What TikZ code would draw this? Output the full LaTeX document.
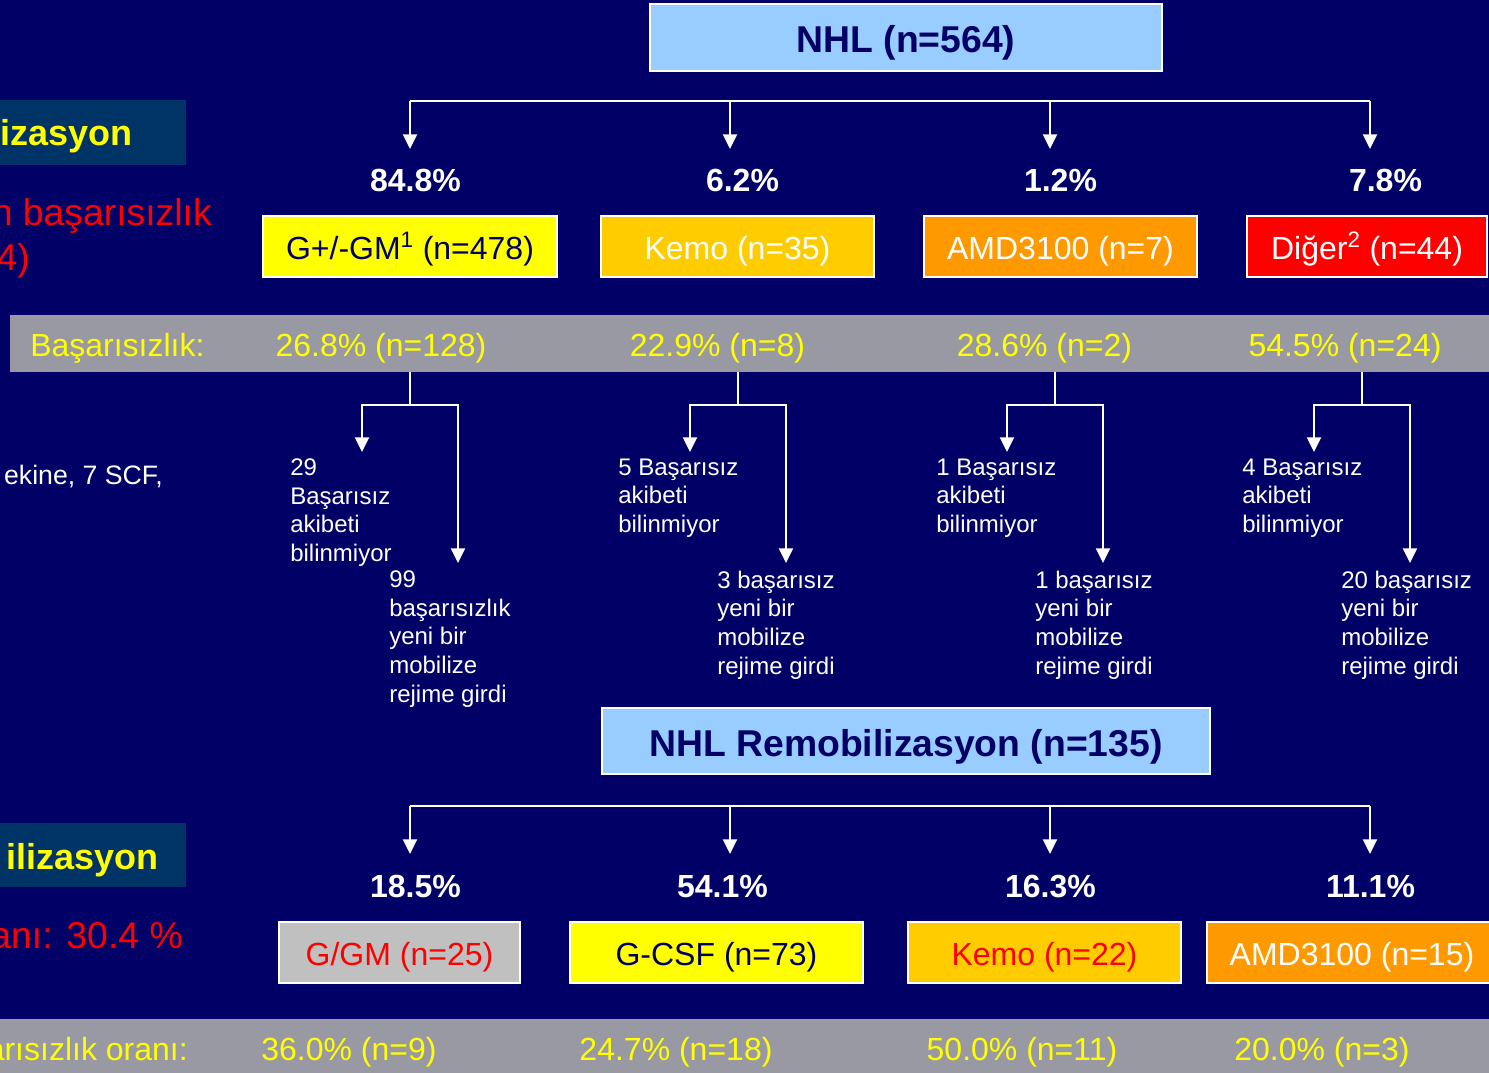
\documentclass[tikz,border=0pt]{standalone}
\usepackage{fontspec}
\setmainfont{Liberation Sans}
\usetikzlibrary{arrows.meta}
\definecolor{bgnavy}{RGB}{0,0,102}
\definecolor{titlebg}{RGB}{0,51,102}
\definecolor{bandgray}{RGB}{153,153,163}
\definecolor{lblue}{RGB}{153,204,255}
\definecolor{gold}{RGB}{255,204,0}
\definecolor{orng}{RGB}{255,153,0}
\definecolor{silv}{RGB}{192,192,192}
\definecolor{yel}{RGB}{255,255,0}
\definecolor{rd}{RGB}{255,0,0}
\tikzset{
  box/.style={draw=white, line width=1.3pt, inner sep=0pt, minimum height=45.75pt,
    font=\fontsize{24}{28}\selectfont, text height=19.4pt, text depth=0pt},
  hbox/.style={box, fill=lblue, text=bgnavy, font=\fontsize{28}{32}\selectfont\bfseries, text height=23pt},
  pct/.style={text=white, font=\fontsize{24}{28}\selectfont\bfseries, anchor=base, inner sep=0pt},
  rate/.style={text=yel, font=\fontsize{24}{28}\selectfont, anchor=base, inner sep=0pt},
  note/.style={text=white, font=\fontsize{18}{21.5}\selectfont, align=left, anchor=north west, inner sep=0pt},
  sidetitle/.style={text=yel, font=\fontsize{27}{32}\selectfont\bfseries, anchor=base east, inner sep=0pt},
  sidered/.style={text=rd, font=\fontsize{28}{32}\selectfont, inner sep=0pt},
  arr/.style={draw=white, line width=1.5pt, -{Triangle[width=10.5pt,length=11pt]}},
  ln/.style={draw=white, line width=1.5pt},
}
\begin{document}
\begin{tikzpicture}[x=0.75pt, y=-0.75pt]
\useasboundingbox (0,0) rectangle (1489,1073);
\fill[bgnavy] (0,0) rectangle (1489,1073);

% left side panels
\fill[titlebg] (0,100) rectangle (186,165);
\fill[titlebg] (0,823) rectangle (186,887);
\node[sidetitle] (lt1) at (133,146) {izasyon};
\node[sidered, anchor=base east] (lr1) at (212,226) {n başarısızlık};
\node[sidered, anchor=base east] (lr2) at (30,271) {4)};
\node[text=white, font=\fontsize{20}{23}\selectfont, anchor=base east, inner sep=0pt] (lw1) at (163,484) {ekine, 7 SCF,};
\node[sidetitle] (lt2) at (159,869) {ilizasyon};
\node[sidered, anchor=base east] (lr3) at (183,948) {anı: 30.4 \%};

% gray bands
\fill[bandgray] (10,315) rectangle (1489,372);
\fill[bandgray] (0,1019) rectangle (1489,1073);

% top box
\node[hbox, minimum width=384pt, minimum height=50.25pt] (nhl) at (906,37.5) {NHL (n=564)};

% top branch bar
\coordinate (t1) at (410,101);
\coordinate (t2) at (730,101);
\coordinate (t3) at (1050,101);
\coordinate (t4) at (1370,101);
\draw[ln] (t1) -- (t4);
\coordinate (e1) at (410,149);
\coordinate (e2) at (730,149);
\coordinate (e3) at (1050,149);
\coordinate (e4) at (1370,149);
\draw[arr] (t1) -- (e1);
\draw[arr] (t2) -- (e2);
\draw[arr] (t3) -- (e3);
\draw[arr] (t4) -- (e4);

% percentages row 1
\node[pct] (p1) at (415.5,192) {84.8\%};
\node[pct] (p2) at (742.5,192) {6.2\%};
\node[pct] (p3) at (1060.5,192) {1.2\%};
\node[pct] (p4) at (1385.5,192) {7.8\%};

% boxes row 1
\node[box, fill=yel, text=bgnavy, minimum width=220.5pt] (g1) at (410,246.5) {G+/-GM\textsuperscript{1} (n=478)};
\node[box, fill=gold, text=white, minimum width=204.75pt] (k1) at (737.5,246.5) {Kemo (n=35)};
\node[box, fill=orng, text=white, minimum width=204.75pt] (a1) at (1060.5,246.5) {AMD3100 (n=7)};
\node[box, fill=rd, text=white, minimum width=180pt] (d1) at (1367,246.5) {Diğer\textsuperscript{2} (n=44)};

% failure band row 1
\node[rate, anchor=base west] (bl) at (30,356.5) {Başarısızlık:};
\node[rate] (r1) at (381,356.5) {26.8\% (n=128)};
\node[rate] (r2) at (717.5,356.5) {22.9\% (n=8)};
\node[rate] (r3) at (1044.5,356.5) {28.6\% (n=2)};
\node[rate] (r4) at (1345,356.5) {54.5\% (n=24)};

% failure branches
\foreach \i/\c in {1/410, 2/738, 3/1055, 4/1362} {
  \coordinate (f\i) at (\c,372);
  \coordinate (m\i) at (\c,405);
  \coordinate (ua\i) at (\c-48,452);
  \coordinate (la\i) at (\c+48,563);
  \draw[arr] (f\i) -- (m\i) -| (ua\i);
  \draw[arr] (m\i) -| (la\i);
}

% notes
\node[note] (u1) at (290,458.5) {29\\Başarısız\\akibeti\\bilinmiyor};
\node[note] (l1) at (389,570.5) {99\\başarısızlık\\yeni bir\\mobilize\\rejime girdi};
\node[note] (u2) at (618,458.5) {5 Başarısız\\akibeti\\bilinmiyor};
\node[note] (l2) at (717,570.5) {3 başarısız\\yeni bir\\mobilize\\rejime girdi};
\node[note] (u3) at (936,458.5) {1 Başarısız\\akibeti\\bilinmiyor};
\node[note] (l3) at (1035,570.5) {1 başarısız\\yeni bir\\mobilize\\rejime girdi};
\node[note] (u4) at (1242,458.5) {4 Başarısız\\akibeti\\bilinmiyor};
\node[note] (l4) at (1341,570.5) {20 başarısız\\yeni bir\\mobilize\\rejime girdi};

% remobilization box
\node[hbox, minimum width=456pt, minimum height=49.5pt] (rem) at (906,741) {NHL Remobilizasyon (n=135)};

% bottom branch bar
\coordinate (s1) at (410,806);
\coordinate (s2) at (730,806);
\coordinate (s3) at (1050,806);
\coordinate (s4) at (1370,806);
\draw[ln] (s1) -- (s4);
\coordinate (g1e) at (410,854);
\coordinate (g2e) at (730,854);
\coordinate (g3e) at (1050,854);
\coordinate (g4e) at (1370,854);
\draw[arr] (s1) -- (g1e);
\draw[arr] (s2) -- (g2e);
\draw[arr] (s3) -- (g3e);
\draw[arr] (s4) -- (g4e);

% percentages row 2
\node[pct] (q1) at (415.5,897) {18.5\%};
\node[pct] (q2) at (722.5,897) {54.1\%};
\node[pct] (q3) at (1050.5,897) {16.3\%};
\node[pct] (q4) at (1370.5,897) {11.1\%};

% boxes row 2
\node[box, fill=silv, text=rd, minimum width=180.75pt] (b1) at (399.5,952.5) {G/GM (n=25)};
\node[box, fill=yel, text=bgnavy, minimum width=219.75pt] (b2) at (716.5,952.5) {G-CSF (n=73)};
\node[box, fill=gold, text=rd, minimum width=204.75pt] (b3) at (1044.5,952.5) {Kemo (n=22)};
\node[box, fill=orng, text=white, minimum width=217.5pt] (b4) at (1352,952.5) {AMD3100 (n=15)};

% failure band row 2
\node[rate, anchor=base east] (bl2) at (188,1060.5) {arısızlık oranı:};
\node[rate] (s1r) at (349,1060.5) {36.0\% (n=9)};
\node[rate] (s2r) at (676,1060.5) {24.7\% (n=18)};
\node[rate] (s3r) at (1022,1060.5) {50.0\% (n=11)};
\node[rate] (s4r) at (1322,1060.5) {20.0\% (n=3)};
\end{tikzpicture}
\end{document}
